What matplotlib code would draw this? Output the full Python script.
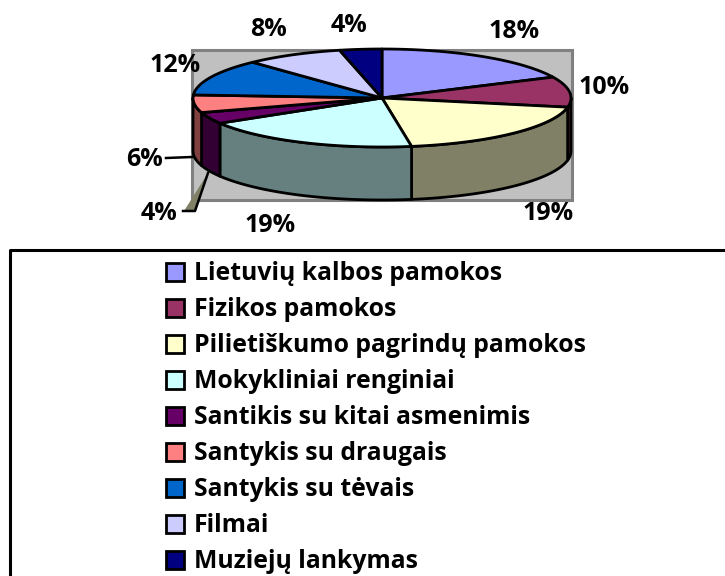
import numpy as np
import matplotlib
matplotlib.use('Agg')
import matplotlib.pyplot as plt
from matplotlib.patches import Polygon, Rectangle

plt.rcParams['font.family'] = ['Open Sans', 'Noto Sans', 'DejaVu Sans']

labels = ['Lietuvių kalbos pamokos', 'Fizikos pamokos', 'Pilietiškumo pagrindų pamokos',
	'Mokykliniai renginiai', 'Santikis su kitai asmenimis', 'Santykis su draugais',
	'Santykis su tėvais', 'Filmai', 'Muziejų lankymas']
# slice sizes, the printed labels are rounded
values = [18, 10, 19.5, 18.9, 3.8, 5.8, 12, 8.4, 3.6]
pct_labels = ['18%', '10%', '19%', '19%', '4%', '6%', '12%', '8%', '4%']
top_colors = ['#9999FF', '#993366', '#FFFFCC', '#CCFFFF', '#660066', '#FF8080', '#0066CC', '#CCCCFF', '#000080']
side_colors = ['#4D4D80', '#4D1A33', '#808066', '#668080', '#330033', '#804040', '#003366', '#666680', '#000040']

# pie geometry, in pixels
cx, cy, rx, ry, depth = 382, 98, 189, 49, 53
# label centres
label_x = [514, 604, 548, 270, 159, 145, 175, 269, 349]
label_y = [31, 87, 214, 226, 213, 159, 66, 30, 25]
legend_rows = [272, 308, 344, 380, 416, 452, 488, 524, 560]


def ellipse(angles, dy=0):
	a = np.radians(angles)
	return np.column_stack((cx + rx * np.sin(a), cy + dy - ry * np.cos(a)))


def main():
	fig = plt.figure(figsize=(7.25, 5.76), dpi=100)
	ax = fig.add_axes([0, 0, 1, 1])
	ax.set_xlim(0, 725)
	ax.set_ylim(576, 0)
	ax.axis('off')

	ax.add_patch(Rectangle((192, 50), 380, 150, fc='#C0C0C0', ec='#808080', lw=2.2, zorder=1))

	edges = np.concatenate(([0], np.cumsum(values))) * 3.6

	# side walls first, only the front half shows
	for i in range(len(values)):
		a0 = max(edges[i], 90)
		a1 = min(edges[i + 1], 270)
		if a1 <= a0:
			continue
		t = np.linspace(a0, a1, 60)
		pts = np.vstack((ellipse(t), ellipse(t[::-1], depth)))
		ax.add_patch(Polygon(pts, fc=side_colors[i], ec='black', lw=2, joinstyle='round', zorder=2))

	# top of the pie
	for i in range(len(values)):
		t = np.linspace(edges[i], edges[i + 1], 60)
		pts = np.vstack(([[cx, cy]], ellipse(t)))
		ax.add_patch(Polygon(pts, fc=top_colors[i], ec='black', lw=2, joinstyle='round', zorder=3))

	# leader lines
	ax.add_patch(Polygon([[184, 211], [195, 211], [208, 173]], fc='#808066', ec='none', zorder=2))
	ax.plot([166, 192], [158, 157], color='black', lw=1.8, zorder=2)
	ax.plot([183, 195, 208], [211, 211, 173], color='black', lw=1.8, zorder=2)

	for i in range(len(values)):
		ax.text(label_x[i], label_y[i], pct_labels[i], ha='center', va='center',
			fontsize=18, fontweight='bold', color='black', zorder=5)

	# legend box has no right or bottom edge in the picture
	ax.plot([10, 10, 725], [576, 250, 250], color='black', lw=2.2, zorder=1)
	for i in range(len(labels)):
		ax.add_patch(Rectangle((166.5, legend_rows[i] - 9.5), 18, 18, fc=top_colors[i], ec='black', lw=2, zorder=3))
		ax.text(194, legend_rows[i] + 1, labels[i], ha='left', va='center', fontsize=17.8,
			fontweight='bold', color='black', zorder=5)

	fig.savefig('out.png', dpi=100)


if __name__ == '__main__':
	main()
